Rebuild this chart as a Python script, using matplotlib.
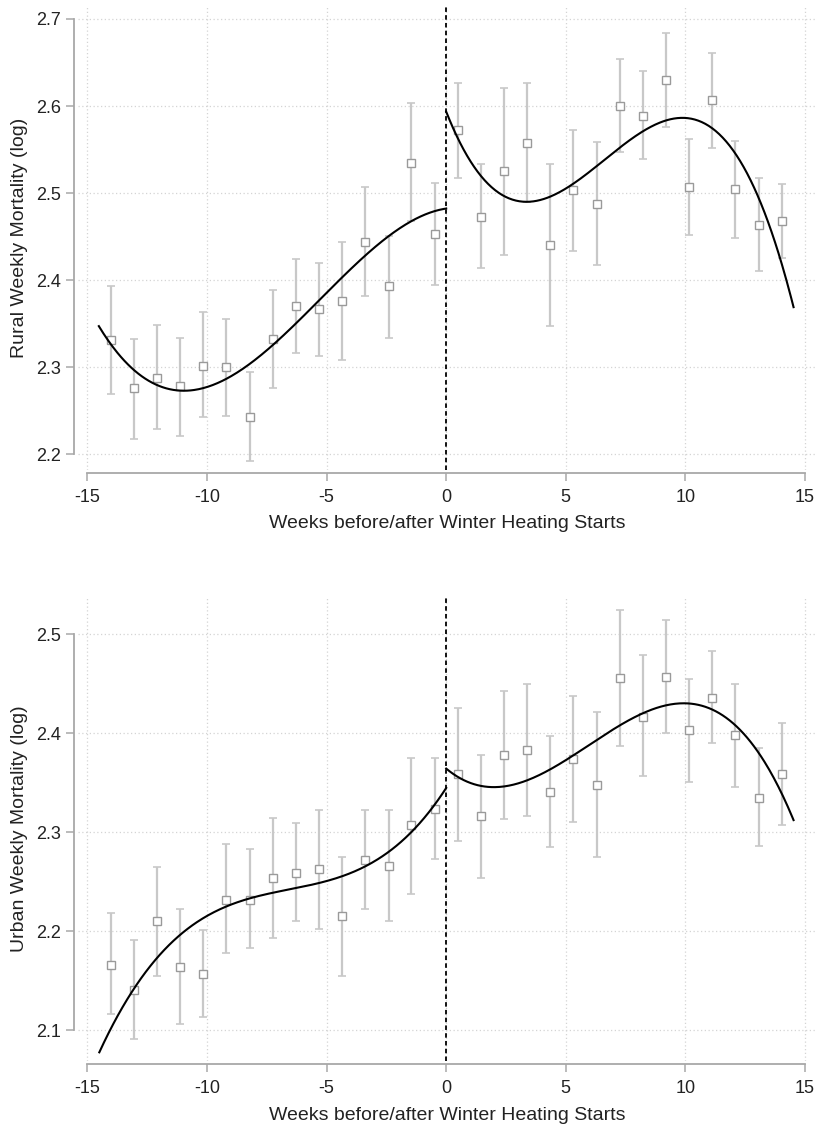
import numpy as np
import matplotlib
matplotlib.use("Agg")
import matplotlib.pyplot as plt

plt.rcParams['font.family'] = ['Liberation Sans Narrow', 'Liberation Sans', 'DejaVu Sans']

# bin centres (weeks relative to heating start)
weeks = [-14.02, -13.07, -12.09, -11.12, -10.17, -9.19, -8.22, -7.25, -6.29, -5.33,
         -4.35, -3.39, -2.41, -1.46, -0.46, 0.49, 1.45, 2.41, 3.39, 4.36,
         5.31, 6.29, 7.26, 8.23, 9.20, 10.17, 11.13, 12.09, 13.08, 14.03]

rural_mean = [2.331, 2.276, 2.288, 2.278, 2.302, 2.300, 2.243, 2.332, 2.370, 2.367,
              2.376, 2.444, 2.393, 2.535, 2.453, 2.572, 2.473, 2.525, 2.558, 2.440,
              2.503, 2.488, 2.600, 2.589, 2.630, 2.507, 2.607, 2.505, 2.463, 2.468]
rural_hi = [2.393, 2.333, 2.349, 2.334, 2.363, 2.355, 2.294, 2.389, 2.424, 2.420,
            2.444, 2.507, 2.451, 2.604, 2.512, 2.627, 2.534, 2.621, 2.626, 2.534,
            2.573, 2.559, 2.654, 2.640, 2.684, 2.562, 2.661, 2.560, 2.517, 2.511]
rural_lo = [2.269, 2.218, 2.229, 2.221, 2.243, 2.244, 2.192, 2.276, 2.316, 2.313,
            2.308, 2.382, 2.334, 2.468, 2.394, 2.517, 2.414, 2.429, 2.490, 2.347,
            2.434, 2.417, 2.547, 2.539, 2.576, 2.452, 2.552, 2.449, 2.410, 2.425]

urban_mean = [2.166, 2.141, 2.210, 2.164, 2.157, 2.232, 2.232, 2.254, 2.259, 2.263,
              2.215, 2.272, 2.266, 2.307, 2.323, 2.359, 2.316, 2.378, 2.383, 2.341,
              2.374, 2.348, 2.456, 2.417, 2.457, 2.403, 2.436, 2.398, 2.335, 2.359]
urban_hi = [2.218, 2.191, 2.265, 2.222, 2.201, 2.288, 2.283, 2.314, 2.309, 2.322,
            2.275, 2.322, 2.322, 2.375, 2.375, 2.426, 2.378, 2.443, 2.450, 2.397,
            2.438, 2.422, 2.525, 2.479, 2.515, 2.455, 2.483, 2.450, 2.385, 2.410]
urban_lo = [2.116, 2.091, 2.155, 2.106, 2.113, 2.178, 2.183, 2.193, 2.210, 2.202,
            2.155, 2.222, 2.210, 2.238, 2.273, 2.291, 2.254, 2.313, 2.316, 2.285,
            2.310, 2.275, 2.387, 2.357, 2.400, 2.351, 2.390, 2.346, 2.286, 2.307]

# readings of the fitted cubic curves, before / after heating starts
rural_fit_before_x = [-14.52, -10.84, -7.25, -5.0, -2.41, 0.0]
rural_fit_before_y = [2.347, 2.274, 2.324, 2.386, 2.451, 2.482]
rural_fit_after_x = [0.0, 3.36, 6.62, 9.88, 14.52]
rural_fit_after_y = [2.5935, 2.4902, 2.538, 2.5866, 2.369]

urban_fit_before_x = [-14.5, -13.07, -11.12, -8.22, -6.29, -4.35, -2.41, -1.46, 0.0]
urban_fit_before_y = [2.078, 2.139, 2.199, 2.233, 2.243, 2.253, 2.279, 2.306, 2.342]
urban_fit_after_x = [0.0, 1.92, 5.93, 9.94, 14.52]
urban_fit_after_y = [2.3645, 2.3453, 2.3878, 2.4302, 2.3123]

x_ticks = [-15, -10, -5, 0, 5, 10, 15]
rural_ticks = [2.2, 2.3, 2.4, 2.5, 2.6, 2.7]
urban_ticks = [2.1, 2.2, 2.3, 2.4, 2.5]

grid_col = '#d4d4d4'
axis_col = '#a8a8a8'
bar_col = '#c8c8c8'
mark_col = '#9a9a9a'


def draw_fit(ax, fx, fy):
    z = np.polyfit(fx, fy, 3)
    p = np.poly1d(z)
    xs = np.linspace(fx[0], fx[-1], 300)
    ax.plot(xs, p(xs), color='black', lw=1.5, zorder=4)


def panel(ax, mean, lo, hi, fits, yticks, ylim, ylabel):
    mean = np.array(mean)
    err = [mean - np.array(lo), np.array(hi) - mean]
    ax.errorbar(weeks, mean, yerr=err, fmt='none', ecolor=bar_col, elinewidth=1.6,
                capsize=3, capthick=1.2, zorder=2)
    ax.plot(weeks, mean, 's', ms=6, mfc='white', mec=mark_col, mew=1.0, zorder=3)
    for fx, fy in fits:
        draw_fit(ax, fx, fy)
    ax.axvline(0, color='black', lw=1.3, ls=(0, (2.5, 1.8)), zorder=5)

    ax.set_xlim(-15.39, 15.5)
    ax.set_ylim(*ylim)
    ax.set_xticks(x_ticks)
    ax.set_xticklabels([str(t) for t in x_ticks])
    ax.set_yticks(yticks)
    ax.set_yticklabels([f"{t:.1f}" for t in yticks])
    ax.grid(True, color=grid_col, ls=(0, (1, 2)), lw=0.9)
    ax.set_axisbelow(True)

    for s in ['top', 'right']:
        ax.spines[s].set_visible(False)
    ax.spines['left'].set_position(('outward', 3))
    ax.spines['bottom'].set_position(('outward', 2))
    ax.spines['left'].set_bounds(yticks[0], yticks[-1])
    ax.spines['bottom'].set_bounds(x_ticks[0], x_ticks[-1])
    for s in ['left', 'bottom']:
        ax.spines[s].set_color(axis_col)
        ax.spines[s].set_linewidth(1.3)
    ax.tick_params(axis='both', colors=axis_col, labelcolor='#222222', labelsize=13,
                   length=5.5, width=1.1)
    ax.tick_params(axis='x', pad=6)
    ax.set_xlabel('Weeks before/after Winter Heating Starts', fontsize=14, color='#222222',
                  labelpad=7)
    ax.set_ylabel(ylabel, fontsize=14, color='#222222', labelpad=6)


fig = plt.figure(figsize=(8.17, 11.26), dpi=100)
ax1 = fig.add_axes([0.0955, 0.5826, 0.9045, 0.413])
ax2 = fig.add_axes([0.0955, 0.0577, 0.9045, 0.412])

panel(ax1, rural_mean, rural_lo, rural_hi,
      [(rural_fit_before_x, rural_fit_before_y), (rural_fit_after_x, rural_fit_after_y)],
      rural_ticks, (2.182, 2.7161), 'Rural Weekly Mortality (log)')
panel(ax2, urban_mean, urban_lo, urban_hi,
      [(urban_fit_before_x, urban_fit_before_y), (urban_fit_after_x, urban_fit_after_y)],
      urban_ticks, (2.0687, 2.5377), 'Urban Weekly Mortality (log)')

fig.savefig('out.png', dpi=100, facecolor='white')
